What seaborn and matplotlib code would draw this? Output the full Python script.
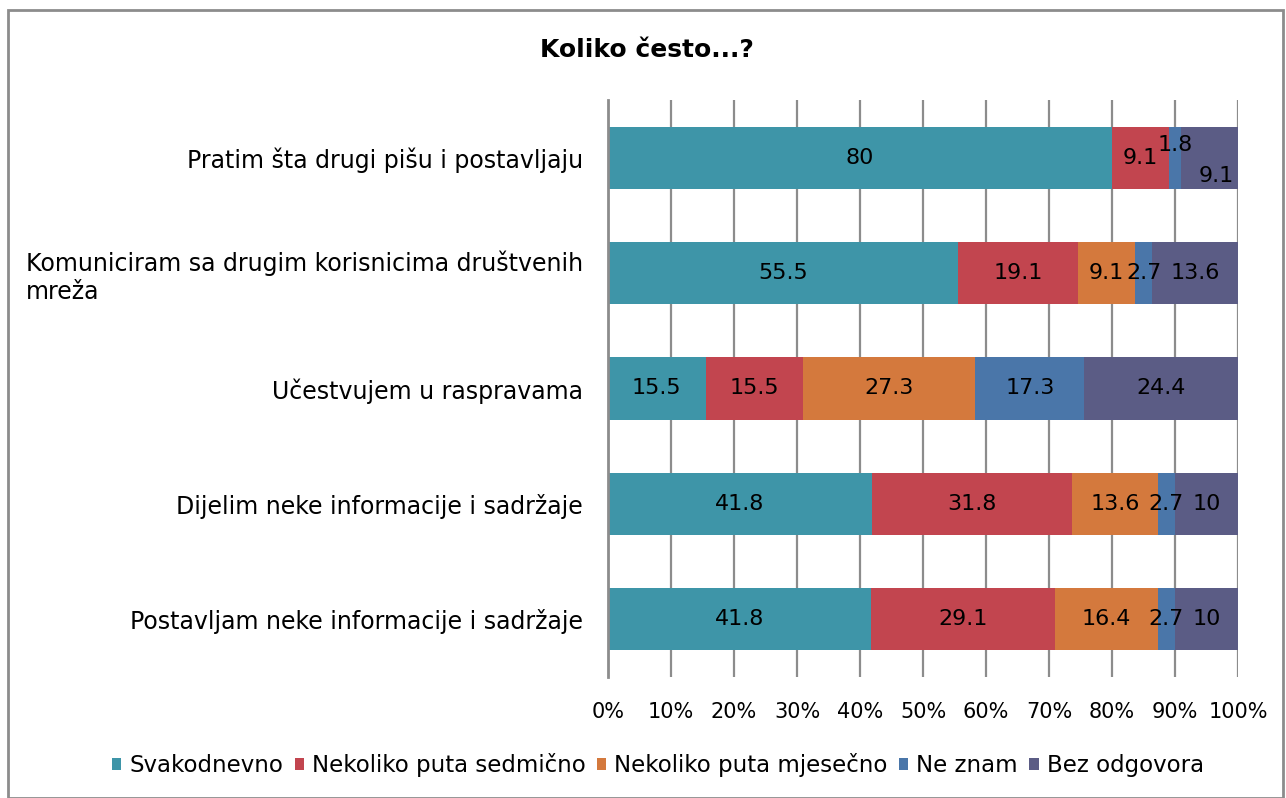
import numpy as np
import pandas as pd
import matplotlib
matplotlib.use("Agg")
import matplotlib.pyplot as plt
import seaborn as sns
from matplotlib.patches import Rectangle, Patch

categories = [
    "Pratim šta drugi pišu i postavljaju",
    "Komuniciram sa drugim korisnicima društvenih\nmreža",
    "Učestvujem u raspravama",
    "Dijelim neke informacije i sadržaje",
    "Postavljam neke informacije i sadržaje",
]
series = ["Svakodnevno", "Nekoliko puta sedmično", "Nekoliko puta mjesečno", "Ne znam", "Bez odgovora"]
svakodnevno = [80, 55.5, 15.5, 41.8, 41.8]
sedmicno = [9.1, 19.1, 15.5, 31.8, 29.1]
mjesecno = [0, 9.1, 27.3, 13.6, 16.4]
ne_znam = [1.8, 2.7, 17.3, 2.7, 2.7]
bez_odgovora = [9.1, 13.6, 24.4, 10, 10]
xticklabels = ["0%", "10%", "20%", "30%", "40%", "50%", "60%", "70%", "80%", "90%", "100%"]

colors = ["#3e95a8", "#c2454f", "#d4793d", "#4a76a9", "#5b5c85"]

sns.set_theme(style="white")
plt.rcParams["font.family"] = ["DejaVu Sans"]
plt.rcParams["text.color"] = "black"
plt.rcParams["xtick.color"] = "black"
plt.rcParams["ytick.color"] = "black"

vals = np.array([svakodnevno, sedmicno, mjesecno, ne_znam, bez_odgovora], dtype=float)
totals = vals.sum(axis=0)
pct = vals / totals * 100
cum = np.cumsum(pct, axis=0)

fig = plt.figure(figsize=(12.86, 7.98), dpi=100)
ax = fig.add_axes([608 / 1286, 1 - 677 / 798, 630 / 1286, 577 / 798])

for i in range(len(series) - 1, -1, -1):
    df = pd.DataFrame({"cat": categories, "v": cum[i]})
    sns.barplot(data=df, x="v", y="cat", orient="h", color=colors[i], width=0.54,
                saturation=1, ax=ax, zorder=3, linewidth=0)

# labels
offsets = {(0, 3): (0, 9), (0, 4): (5, -13)}
for i in range(len(series)):
    for j in range(len(categories)):
        if vals[i, j] <= 0:
            continue
        xc = cum[i, j] - pct[i, j] / 2
        lab = f"{vals[i, j]:g}"
        dx, dy = offsets.get((j, i), (0, 0))
        ax.annotate(lab, (xc, j), xytext=(dx, dy), textcoords="offset points",
                    ha="center", va="center", fontsize=16, color="black", zorder=5)

ax.set_xlim(0, 100)
ax.set_ylim(4.5, -0.5)
ax.set_xticks(np.arange(0, 101, 10))
ax.set_xticklabels(xticklabels, fontsize=15)
ax.tick_params(axis="x", length=0, pad=18)
ax.tick_params(axis="y", length=0, pad=18, labelsize=17)
ax.set_xlabel("")
ax.set_ylabel("")
ax.grid(axis="x", color="#8c8c8c", linewidth=1.6, zorder=0)
ax.set_axisbelow(True)
for s in ["top", "right", "bottom"]:
    ax.spines[s].set_visible(False)
ax.spines["left"].set_color("#8c8c8c")
ax.spines["left"].set_linewidth(2)
ax.spines["left"].set_zorder(4)
for t in ax.get_yticklabels():
    t.set_horizontalalignment("right")
    t.set_multialignment("left")

fig.text(647 / 1286, 1 - 50 / 798, "Koliko često...?", ha="center", va="center",
         fontsize=18, fontweight="bold")

handles = [Patch(facecolor=c, edgecolor="none") for c in colors]
fig.legend(handles, series, loc="center", bbox_to_anchor=(658 / 1286, 1 - 765 / 798),
           ncol=5, frameon=False, prop={"size": 16.5},
           handlelength=0.4, handleheight=0.4, handletextpad=0.35, columnspacing=0.5)

fig.patches.append(Rectangle((8 / 1286, 0), 1275 / 1286, 1 - 10 / 798, transform=fig.transFigure,
                             fill=False, edgecolor="#8c8c8c", linewidth=2))

fig.savefig("out.png", dpi=100)
